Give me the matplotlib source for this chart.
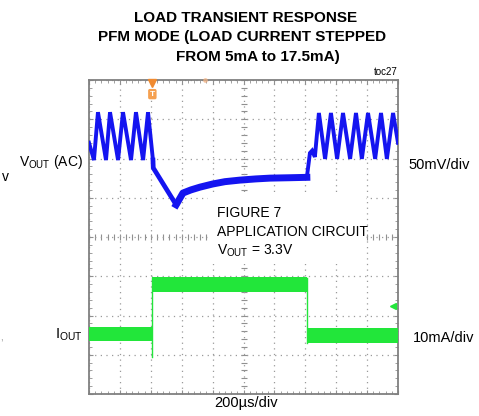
import numpy as np
import matplotlib
matplotlib.use("Agg")
import matplotlib.pyplot as plt
from matplotlib.patches import Rectangle

plt.rcParams['font.family'] = ['Liberation Sans', 'DejaVu Sans']
plt.rcParams['mathtext.fontset'] = 'custom'
plt.rcParams['mathtext.rm'] = 'Liberation Sans'
plt.rcParams['mathtext.it'] = 'Liberation Sans:italic'

# ---- data (time in divisions, amplitude in divisions, 0 = bottom of screen) ----
vout_ripple1_t = [0.00, 0.16, 0.29, 0.55, 0.68, 0.94, 1.10, 1.36, 1.52, 1.75, 1.91, 2.07]
vout_ripple1_v = [6.40, 5.96, 7.18, 5.96, 7.18, 5.96, 7.18, 5.96, 7.18, 5.96, 7.18, 5.96]

vout_dip_t = [2.07, 2.08, 2.82]
vout_dip_v = [5.96, 5.76, 4.82]

vout_recov_t = [2.82, 3.04, 3.30, 3.59, 4.00, 4.40, 4.89, 5.40, 5.86, 6.50, 7.05]
vout_recov_v = [4.82, 5.12, 5.20, 5.27, 5.35, 5.41, 5.45, 5.48, 5.50, 5.51, 5.52]

vout_ripple2_t = [7.05, 7.15, 7.22, 7.31, 7.44, 7.64, 7.83, 8.03, 8.22, 8.45, 8.64,
                  8.83, 9.03, 9.26, 9.45, 9.64, 9.84, 10.00]
vout_ripple2_v = [5.52, 6.14, 6.20, 6.04, 7.16, 5.99, 7.16, 5.99, 7.16, 5.99, 7.16,
                  5.99, 7.16, 5.99, 7.16, 5.99, 7.16, 6.40]

iout_edges_t = [0.00, 2.05, 7.05, 10.00]
iout_levels = [1.53, 2.78, 1.49]
iout_band = [0.18, 0.19, 0.18]          # half-thickness of noisy trace
iout_rise_span = [0.94, 2.95]
iout_fall_span = [2.95, 1.30]

gnd_marker = (9.84, 2.24)
trig_t = 2.05

BLUE = '#1414f0'
GREEN = '#22e63a'
GRIDC = '#9a9a9a'

fig = plt.figure(figsize=(4.79, 4.16), dpi=100)
ax = fig.add_axes([89/479, 1-394/416, (398-89)/479, (394-80)/416])
ax.set_xlim(0, 10)
ax.set_ylim(0, 8)

# frame & ticks
for s in ax.spines.values():
    s.set_color('#808080')
    s.set_linewidth(1.3)
ax.set_xticks(np.arange(0, 11, 1))
ax.set_yticks(np.arange(0, 9, 1))
ax.set_xticks(np.arange(0, 10.01, 0.2), minor=True)
ax.set_yticks(np.arange(0, 8.01, 0.2), minor=True)
ax.tick_params(which='both', direction='in', top=True, right=True,
               labelbottom=False, labelleft=False, color='#909090')
ax.tick_params(which='major', length=3, width=0.8)
ax.tick_params(which='minor', length=2, width=0.6)
ax.grid(True, which='major', color=GRIDC, linestyle=(0, (1, 3.5)), linewidth=0.9)

# center-line graticule ticks
mx = np.arange(0, 10.01, 0.2)
my = np.arange(0, 8.01, 0.2)
ax.plot(mx, np.full_like(mx, 4.0), ls='none', marker='|', ms=4, mew=0.8, color='#909090', zorder=1.5)
ax.plot(np.full_like(my, 5.0), my, ls='none', marker='_', ms=4, mew=0.8, color='#909090', zorder=1.5)

# annotation white box
ax.add_patch(Rectangle(((208-89)/30.9, (394-264)/39.25), (366-208)/30.9, (264-196)/39.25,
                       facecolor='white', edgecolor='none', zorder=2))

# VOUT trace
ax.plot(vout_ripple1_t, vout_ripple1_v, color=BLUE, lw=2.8, solid_joinstyle='miter', zorder=3)
ax.plot(vout_dip_t, vout_dip_v, color=BLUE, lw=3.4, zorder=3)
ax.plot(vout_recov_t, vout_recov_v, color=BLUE, lw=5.0, zorder=3)
ax.plot(vout_ripple2_t, vout_ripple2_v, color=BLUE, lw=2.8, solid_joinstyle='miter', zorder=3)

# IOUT trace
for i, lvl in enumerate(iout_levels):
    ax.fill_between([iout_edges_t[i], iout_edges_t[i+1]], lvl - iout_band[i], lvl + iout_band[i],
                    color=GREEN, lw=0, zorder=3)
ax.plot([iout_edges_t[1]]*2, iout_rise_span, color=GREEN, lw=1.0, zorder=3)
ax.plot([iout_edges_t[2]]*2, iout_fall_span, color=GREEN, lw=1.0, zorder=3)
ax.plot([gnd_marker[0]], [gnd_marker[1]], marker='<', ms=4, color=GREEN, zorder=4)

# trigger marker
ax.plot([trig_t], [7.93], marker='v', ms=5.5, color='#f08a30', clip_on=False, zorder=5)
ax.text(trig_t, 7.64, 'T', ha='center', va='center', fontsize=6, color='white', fontweight='bold',
        bbox=dict(boxstyle='round,pad=0.2', fc='#f5a050', ec='none'), zorder=5)
ax.plot([3.75], [8.0], marker='o', ms=2.5, color='#f0b080', alpha=0.6, clip_on=False, zorder=5)

# annotation text
def px(x, y):
    return x/479, 1 - y/416

fig.text(*px(217, 213), 'FIGURE 7', fontsize=10, va='center', ha='left')
fig.text(*px(217, 232), 'APPLICATION CIRCUIT', fontsize=10, va='center', ha='left')
fig.text(*px(217, 251), r'V$_{\mathrm{OUT}}$ = 3.3V', fontsize=10, va='center', ha='left')

# title
fig.text(*px(246, 17.5), 'LOAD TRANSIENT RESPONSE', fontsize=11, fontweight='bold', ha='center', va='center')
fig.text(*px(242, 37.5), 'PFM MODE (LOAD CURRENT STEPPED', fontsize=11, fontweight='bold', ha='center', va='center')
fig.text(*px(258, 57.5), 'FROM 5mA to 17.5mA)', fontsize=11, fontweight='bold', ha='center', va='center')
fig.text(*px(398, 72), 'toc27', fontsize=7, ha='right', va='center')

# side labels
fig.text(*px(83, 162), r'V$_{\mathrm{OUT}}$ (AC)', fontsize=10, ha='right', va='center')
fig.text(*px(2, 177), 'v', fontsize=10, ha='left', va='center')
fig.text(*px(408, 165), '50mV/div', fontsize=10.5, ha='left', va='center')
fig.text(*px(83, 335), r'I$_{\mathrm{OUT}}$', fontsize=10.5, ha='right', va='center')
fig.text(*px(0, 338), ',', fontsize=7, color='#888888', ha='left', va='center')
fig.text(*px(413, 338), '10mA/div', fontsize=10.5, ha='left', va='center')
fig.text(*px(246, 403), '200µs/div', fontsize=10.5, ha='center', va='center')

fig.savefig('out.png', dpi=100)
